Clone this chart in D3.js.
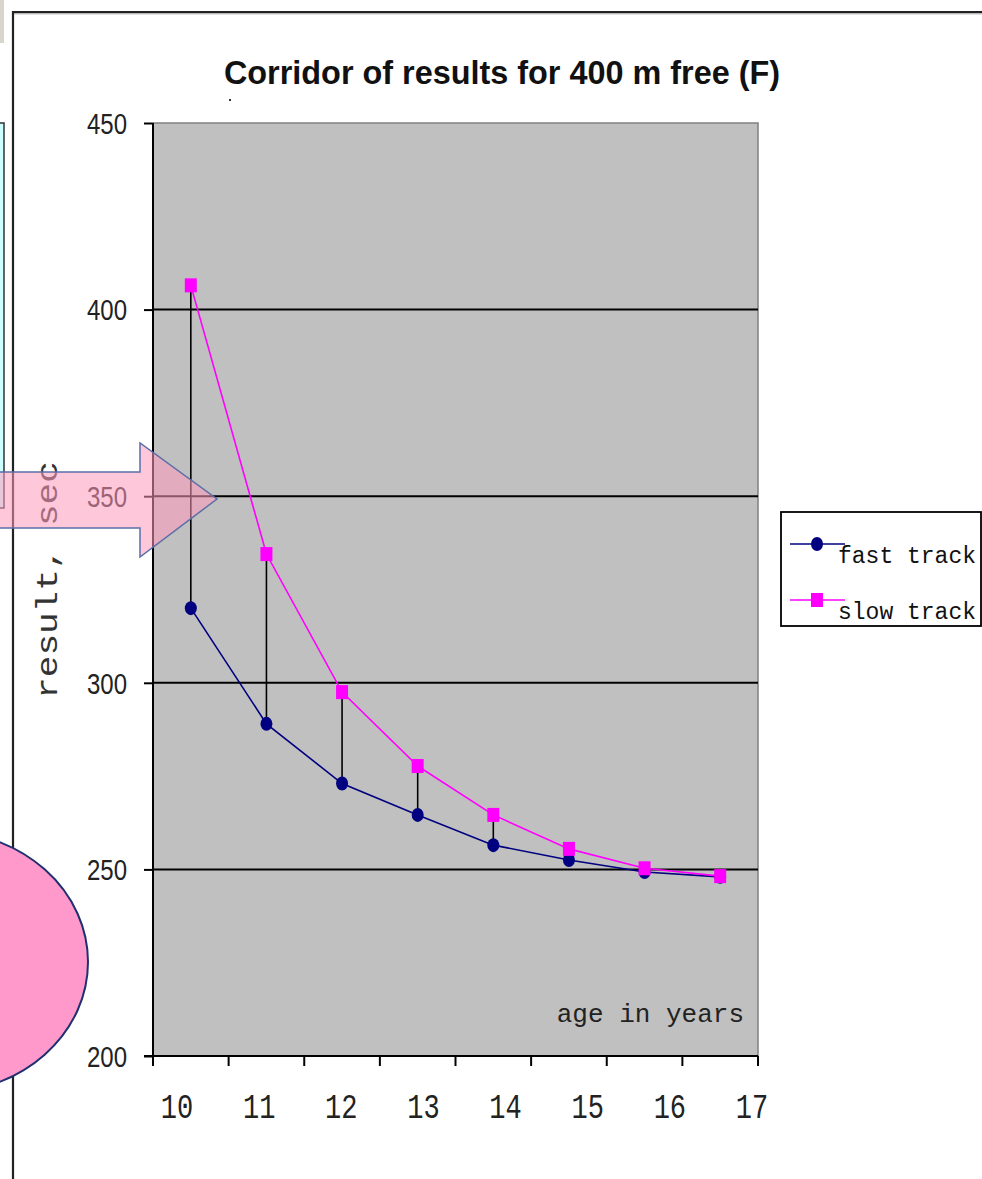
<!DOCTYPE html>
<html><head><meta charset="utf-8">
<script src="https://cdn.jsdelivr.net/npm/d3@7"></script>
<style>body{margin:0;background:#fff;overflow:hidden}svg{display:block}</style>
</head><body>
<svg id="c" width="982" height="1179"></svg>
<script>
// ---- data ----
const ages = [10, 11, 12, 13, 14, 15, 16, 17];
const fastTrack = [320, 289, 273, 264.6, 256.5, 252.5, 249.3, 248];
const slowTrack = [406.5, 334.5, 297.5, 277.7, 264.6, 255.5, 250.3, 248.2];
const yTicks = [200, 250, 300, 350, 400, 450];
const gridValues = [250, 300, 350, 400];
const seriesNames = ["fast track", "slow track"];
const titleText = "Corridor of results for 400 m free (F)";
const yTitleText = "result, sec";
const xTitleText = "age in years";

// ---- setup ----
const svg = d3.select("#c");
const L = 153, R = 758, T = 123, B = 1056;
const x = d3.scaleBand().domain(ages).range([L, R]);
const xLab = d3.scalePoint().domain(ages).range([177, 752]);
const y = d3.scaleLinear().domain([200, 450]).range([B, T]);
const cx = a => x(a) + x.bandwidth() / 2;

const fast = ages.map((a, i) => ({age: a, v: fastTrack[i]}));
const slow = ages.map((a, i) => ({age: a, v: slowTrack[i]}));

// left-side decorations (behind)
svg.append("rect").attr("x", 0).attr("y", 0).attr("width", 4).attr("height", 43).attr("fill", "#d9d5cd");
svg.append("rect").attr("x", -5).attr("y", 123).attr("width", 9).attr("height", 385)
  .attr("fill", "#ccffff").attr("stroke", "#333").attr("stroke-width", 1.5);

// frame
svg.append("path").attr("d", "M13,1182V12H985").attr("fill", "none")
  .attr("stroke", "#222").attr("stroke-width", 2.2);
svg.append("line").attr("x1", 14).attr("x2", 982).attr("y1", 13.8).attr("y2", 13.8)
  .attr("stroke", "#999").attr("stroke-width", 1);

// plot background
svg.append("rect").attr("x", L).attr("y", T).attr("width", R - L).attr("height", B - T)
  .attr("fill", "#c0c0c0");
svg.append("path").attr("d", `M${L},${T}H${R}V${B}`).attr("fill", "none")
  .attr("stroke", "#808080").attr("stroke-width", 1.5);

// gridlines
svg.append("g").selectAll("line").data(gridValues).join("line")
  .attr("x1", L).attr("x2", R).attr("y1", d => y(d)).attr("y2", d => y(d))
  .attr("stroke", "#000").attr("stroke-width", 2);

// y axis
const yAxis = svg.append("g").attr("transform", `translate(${L},0)`)
  .call(d3.axisLeft(y).tickValues(yTicks).tickSize(9).tickSizeOuter(0).tickFormat(""));
yAxis.selectAll("path,line").attr("stroke", "#000").attr("stroke-width", 2);
yAxis.select(".domain").attr("d", `M0,${T}V${B + 10}`);

// y tick labels
svg.append("g").selectAll("text").data(yTicks).join("text")
  .attr("transform", d => `translate(127,${y(d)}) scale(1,1.25)`)
  .attr("dy", "0.36em").attr("text-anchor", "end")
  .attr("font-family", "Liberation Sans, Arial, sans-serif").attr("font-size", 24)
  .attr("fill", "#222").text(d => d);

// x axis
const bounds = ages.map(a => x(a)).concat([R]);
svg.append("line").attr("x1", L - 9).attr("x2", R).attr("y1", B).attr("y2", B)
  .attr("stroke", "#000").attr("stroke-width", 2);
svg.append("g").selectAll("line").data(bounds).join("line")
  .attr("x1", d => d).attr("x2", d => d).attr("y1", B).attr("y2", B + 10)
  .attr("stroke", "#000").attr("stroke-width", 2);

svg.append("g").selectAll("text").data(ages).join("text")
  .attr("transform", d => `translate(${xLab(d)},1106) scale(1,1.28)`)
  .attr("dy", "0.36em").attr("text-anchor", "middle")
  .attr("font-family", "Liberation Mono, Courier New, monospace").attr("font-size", 27)
  .attr("fill", "#222").text(d => d);

// high-low lines
svg.append("g").selectAll("line").data(ages).join("line")
  .attr("x1", (d) => cx(d)).attr("x2", d => cx(d))
  .attr("y1", (d, i) => y(slowTrack[i])).attr("y2", (d, i) => y(fastTrack[i]))
  .attr("stroke", "#000").attr("stroke-width", 1.6);

// series lines
const line = d3.line().x(d => cx(d.age)).y(d => y(d.v));
svg.append("path").datum(fast).attr("d", line).attr("fill", "none")
  .attr("stroke", "#000080").attr("stroke-width", 1.6);
svg.append("path").datum(slow).attr("d", line).attr("fill", "none")
  .attr("stroke", "#ff00ff").attr("stroke-width", 1.6);

// markers
svg.append("g").selectAll("ellipse").data(fast).join("ellipse")
  .attr("cx", d => cx(d.age)).attr("cy", d => y(d.v)).attr("rx", 6).attr("ry", 7)
  .attr("fill", "#000080");
svg.append("g").selectAll("rect").data(slow).join("rect")
  .attr("x", d => cx(d.age) - 6).attr("y", d => y(d.v) - 7).attr("width", 12).attr("height", 14)
  .attr("fill", "#ff00ff");

// axis titles
svg.append("text").attr("transform", "translate(744,1022)").attr("text-anchor", "end")
  .attr("font-family", "Liberation Mono, Courier New, monospace").attr("font-size", 26)
  .attr("fill", "#222").text(xTitleText);
svg.append("text").attr("transform", "translate(57,580) scale(1,1.2) rotate(-90)")
  .attr("text-anchor", "middle")
  .attr("font-family", "Liberation Mono, Courier New, monospace").attr("font-size", 30)
  .attr("fill", "#333").text(yTitleText);

// title
svg.append("text").attr("x", 502).attr("y", 84).attr("text-anchor", "middle")
  .attr("font-family", "Liberation Sans, Arial, sans-serif").attr("font-size", 32.4)
  .attr("font-weight", "bold").attr("fill", "#111").text(titleText);
svg.append("rect").attr("x", 229).attr("y", 99).attr("width", 2).attr("height", 2).attr("fill", "#333");

// legend
const lg = svg.append("g");
lg.append("rect").attr("x", 781).attr("y", 512).attr("width", 200).attr("height", 114)
  .attr("fill", "#fff").attr("stroke", "#000").attr("stroke-width", 1.8);
const legY = [544, 600];
seriesNames.forEach((n, i) => {
  lg.append("line").attr("x1", 790).attr("x2", 845).attr("y1", legY[i]).attr("y2", legY[i])
    .attr("stroke", i === 0 ? "#000080" : "#ff00ff").attr("stroke-width", 1.6);
  if (i === 0) lg.append("ellipse").attr("cx", 817).attr("cy", legY[i]).attr("rx", 6).attr("ry", 7).attr("fill", "#000080");
  else lg.append("rect").attr("x", 811).attr("y", legY[i] - 7).attr("width", 12).attr("height", 14).attr("fill", "#ff00ff");
  lg.append("text").attr("x", 838).attr("y", legY[i] + 19)
    .attr("font-family", "Liberation Mono, Courier New, monospace").attr("font-size", 23)
    .attr("fill", "#111").text(n);
});

// overlay shapes: arrow and ellipse
svg.append("path")
  .attr("d", "M-5,472H140V443L217,499L140,557V528H-5Z")
  .attr("fill", "#ff99bb").attr("fill-opacity", 0.55)
  .attr("stroke", "#5b6ea8").attr("stroke-width", 1.5);
svg.append("ellipse").attr("cx", -60).attr("cy", 962).attr("rx", 148).attr("ry", 131)
  .attr("fill", "#ff99cc").attr("stroke", "#1f2f6f").attr("stroke-width", 2);
</script>
</body></html>
